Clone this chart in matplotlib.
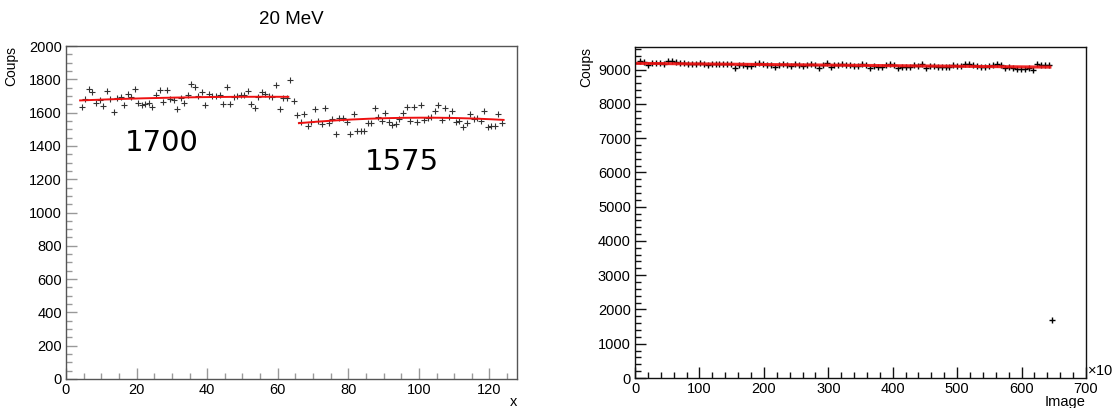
import numpy as np
import matplotlib
matplotlib.use('Agg')
import matplotlib.pyplot as plt
from matplotlib.ticker import MultipleLocator

plt.rcParams['font.family'] = ['Liberation Sans', 'DejaVu Sans']

# --- données panneau gauche (20 MeV), coups par bin ---
left_x = np.arange(4, 124) + 0.5
left_counts = [
    1632, 1680, 1744, 1722, 1660, 1676, 1640, 1730, 1682, 1606,
    1690, 1696, 1644, 1712, 1696, 1742, 1656, 1646, 1652, 1660,
    1634, 1704, 1734, 1662, 1736, 1680, 1676, 1622, 1686, 1656,
    1706, 1770, 1752, 1702, 1722, 1646, 1710, 1700, 1700, 1708,
    1654, 1752, 1652, 1696, 1700, 1706, 1706, 1730, 1652, 1626,
    1696, 1722, 1710, 1702, 1696, 1766, 1622, 1688, 1690,
    1796, 1672, 1586,
    1546, 1592, 1520, 1546, 1622, 1550, 1530, 1630, 1536, 1560,
    1470, 1566, 1566, 1546, 1472, 1592, 1490, 1490, 1490, 1536,
    1536, 1626, 1572, 1552, 1596, 1542, 1524, 1530, 1562, 1600,
    1636, 1552, 1632, 1546, 1646, 1556, 1566, 1576, 1612, 1646,
    1556, 1626, 1576, 1612, 1546, 1552, 1516, 1536, 1592, 1560,
    1566, 1550, 1612, 1516, 1520, 1520, 1592, 1536,
]
fit_ranges = [(4, 63), (66, 124)]
labels_left = ['1700', '1575']
labels_left_pos = [(27, 1417), (95.3, 1303)]

# --- données panneau droit, coups par image (x en milliers) ---
right_counts = [
    9243, 9224, 9146, 9194, 9204, 9194, 9175, 9243, 9243, 9224,
    9204, 9194, 9156, 9156, 9156, 9194, 9156, 9126, 9156, 9156,
    9156, 9156, 9156, 9156, 9049, 9126, 9126, 9107, 9107, 9156,
    9204, 9175, 9126, 9146, 9078, 9146, 9175, 9146, 9107, 9175,
    9126, 9097, 9126, 9156, 9126, 9058, 9126, 9194, 9078, 9146,
    9126, 9156, 9126, 9126, 9097, 9097, 9156, 9146, 9058, 9097,
    9078, 9078, 9146,
    9175, 9126, 9049, 9078, 9078, 9078, 9126, 9107, 9175, 9049,
    9107, 9107, 9078, 9078, 9078, 9078, 9146, 9107, 9107, 9156,
    9156, 9146, 9107, 9078, 9078, 9107, 9126, 9175, 9126, 9049,
    9078, 9049, 9029, 9029, 9029, 9049, 8980, 9175, 9126, 9126,
    9146,
]
right_x = np.linspace(8, 642, len(right_counts))
outlier_x = [647.5]
outlier_y = [1690]

fig = plt.figure(figsize=(11.12, 4.08), dpi=100)
ax1 = fig.add_axes([66 / 1112, 29 / 408, 451 / 1112, 333 / 408])
ax2 = fig.add_axes([635 / 1112, 30 / 408, 451 / 1112, 331 / 408])


def style_axis(ax, frame_col, tick_col):
    for side in ['left', 'bottom', 'top', 'right']:
        ax.spines[side].set_color(frame_col)
        ax.spines[side].set_linewidth(1.0)
    ax.tick_params(which='both', direction='in', top=False, right=False,
                   color=tick_col, labelsize=10.5, pad=3)
    ax.tick_params(which='major', length=8, width=1.0)
    ax.tick_params(which='minor', length=4.5, width=1.0)


# panneau gauche
ax1.plot(left_x, left_counts, ls='none', marker='+', ms=5, mew=0.8, color='#333333')
lx = np.array(left_x)
ly = np.array(left_counts)
for lo, hi in fit_ranges:
    m = (lx >= lo) & (lx <= hi)
    coef = np.polyfit(lx[m], ly[m], 2)
    xs = np.linspace(lo, hi, 200)
    ax1.plot(xs, np.polyval(coef, xs), color='#ee1111', lw=1.4)
for txt, (tx, ty) in zip(labels_left, labels_left_pos):
    ax1.text(tx, ty, txt, family='DejaVu Sans', fontsize=21, ha='center', va='center')

ax1.set_xlim(0, 127.8)
ax1.set_ylim(0, 2000)
ax1.xaxis.set_major_locator(MultipleLocator(20))
ax1.xaxis.set_minor_locator(MultipleLocator(5))
ax1.yaxis.set_major_locator(MultipleLocator(200))
ax1.yaxis.set_minor_locator(MultipleLocator(50))
style_axis(ax1, '#555555', '#999999')
ax1.set_ylabel('Coups', loc='top', fontsize=10)
ax1.yaxis.set_label_coords(-0.106, 1.0)
ax1.set_xlabel('x', loc='right', fontsize=10.5)
ax1.xaxis.set_label_coords(1.0, -0.048)
fig.text(291 / 1112, 1 - 20 / 408, '20 MeV', ha='center', va='center', fontsize=13.5)

# panneau droit
ax2.plot(right_x, right_counts, ls='none', marker='+', ms=5, mew=1.0, color='black')
ax2.plot(outlier_x, outlier_y, ls='none', marker='+', ms=4, mew=1.0, color='black')
coef2 = np.polyfit(right_x, right_counts, 1)
xs2 = np.linspace(right_x[0] - 6, right_x[-1] + 2, 200)
ax2.plot(xs2, np.polyval(coef2, xs2), color='#ee1111', lw=2.2, alpha=0.9)

ax2.set_xlim(0, 700)
ax2.set_ylim(0, 9660)
ax2.xaxis.set_major_locator(MultipleLocator(100))
ax2.xaxis.set_minor_locator(MultipleLocator(20))
ax2.yaxis.set_major_locator(MultipleLocator(1000))
ax2.yaxis.set_minor_locator(MultipleLocator(200))
style_axis(ax2, '#111111', '#111111')
ax2.set_ylabel('Coups', loc='top', fontsize=10)
ax2.yaxis.set_label_coords(-0.093, 1.0)
ax2.set_xlabel('Image', loc='right', fontsize=10.5)
ax2.xaxis.set_label_coords(1.0, -0.05)
ax2.text(1.003, 0.026, '×10$^{3}$', transform=ax2.transAxes, ha='left', va='center',
         fontsize=10.5)

fig.savefig('out.png', dpi=100)
